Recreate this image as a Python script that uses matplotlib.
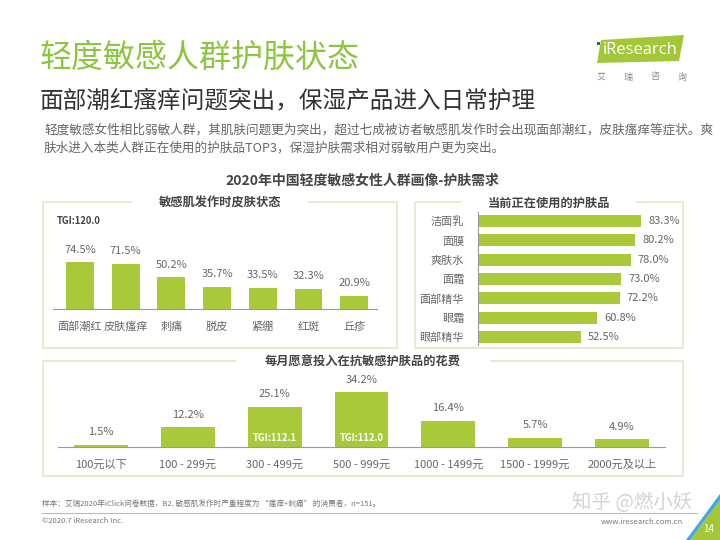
import matplotlib
matplotlib.use("Agg")
import matplotlib.pyplot as plt
from matplotlib.patches import Rectangle, Polygon

plt.rcParams['font.family'] = ['Noto Sans CJK SC', 'DejaVu Sans']

# ---------------- data ----------------
skin_cats = ['面部潮红', '皮肤瘙痒', '刺痛', '脱皮', '紧绷', '红斑', '丘疹']
skin_vals = [74.5, 71.5, 50.2, 35.7, 33.5, 32.3, 20.9]

prod_cats = ['洁面乳', '面膜', '爽肤水', '面霜', '面部精华', '眼霜', '眼部精华']
prod_vals = [83.3, 80.2, 78.0, 73.0, 72.2, 60.8, 52.5]

spend_cats = ['100元以下', '100 - 299元', '300 - 499元', '500 - 999元',
              '1000 - 1499元', '1500 - 1999元', '2000元及以上']
spend_vals = [1.5, 12.2, 25.1, 34.2, 16.4, 5.7, 4.9]
spend_tgi = {2: 'TGI:112.1', 3: 'TGI:112.0'}

# ---------------- style ----------------
W, H = 720, 540
BAR = '#a9c93b'
TITLE_G = '#8cc540'
BOX = '#e3e7c9'
TXT = '#666666'
DARK = '#444444'

fig = plt.figure(figsize=(7.2, 5.4), dpi=100)
fig.patch.set_facecolor('white')


def fx(x):
    return x / W


def fy(y):
    return 1 - y / H


def ftext(x, y, s, **kw):
    return fig.text(fx(x), fy(y), s, **kw)


def axes_px(left, top, right, bottom):
    a = fig.add_axes([fx(left), fy(bottom), (right - left) / W, (bottom - top) / H])
    a.set_zorder(5)
    a.patch.set_alpha(0)
    return a


# ---------------- header ----------------
ftext(40, 58, '轻度敏感人群护肤状态', fontsize=23, color=TITLE_G, va='center', ha='left',
      fontweight='light')
ftext(40, 101, '面部潮红瘙痒问题突出，保湿产品进入日常护理', fontsize=17, color='#333333',
      va='center', ha='left', fontweight='light')
ftext(44, 130, '轻度敏感女性相比弱敏人群，其肌肤问题更为突出，超过七成被访者敏感肌发作时会出现面部潮红，皮肤瘙痒等症状。爽',
      fontsize=9.1, color=TXT, va='center', ha='left')
ftext(44, 148, '肤水进入本类人群正在使用的护肤品TOP3，保湿护肤需求相对弱敏用户更为突出。',
      fontsize=9.1, color=TXT, va='center', ha='left')

# logo
fig.patches.append(Polygon([(fx(597), fy(63)), (fx(601), fy(40)), (fx(684), fy(35)), (fx(679), fy(61))],
                           closed=True, transform=fig.transFigure, facecolor='#a3c739', edgecolor='none'))
ftext(640, 50, 'iResearch', fontsize=12, color='white', ha='center', va='center',
      family=['Open Sans', 'DejaVu Sans'])
fig.patches.append(Rectangle((fx(597), fy(45)), 3 / W, 3 / H, transform=fig.transFigure,
                             facecolor='#1f5fa8', edgecolor='none'))
for i, ch in enumerate('艾瑞咨询'):
    ftext(601 + i * 27, 77, ch, fontsize=6.5, color='#888888', ha='center', va='center')

# chart title
ftext(362, 181, '2020年中国轻度敏感女性人群画像-护肤需求', fontsize=10, fontweight='bold',
      color=DARK, ha='center', va='center')


# ---------------- boxes ----------------
def box(left, top, right, bottom, title, tcx, tgap):
    fig.patches.append(Rectangle((fx(left), fy(bottom)), (right - left) / W, (bottom - top) / H,
                                 transform=fig.transFigure, facecolor='none', edgecolor=BOX,
                                 linewidth=1.2, zorder=0))
    fig.patches.append(Rectangle((fx(tcx - tgap), fy(top) - 2 / H), 2 * tgap / W, 4 / H,
                                 transform=fig.transFigure, facecolor='white', edgecolor='none',
                                 zorder=1))
    ftext(tcx, top + 1, title, fontsize=8.8, fontweight='bold', color=DARK,
          ha='center', va='center', zorder=2)


box(43, 202, 397, 348, '敏感肌发作时皮肤状态', 220, 88)
box(415, 202, 683, 348, '当前正在使用的护肤品', 549, 87)
box(43, 361, 683, 476, '每月愿意投入在抗敏感护肤品的花费', 363, 127)

# ---------------- left chart ----------------
ax1 = axes_px(53, 230, 377, 309)
x1 = list(range(len(skin_cats)))
ax1.bar(x1, skin_vals, width=0.61, color=BAR)
ax1.set_xlim(-0.59, 6.5)
ax1.set_ylim(0, 79 / 0.63)
for s in ['top', 'right', 'left']:
    ax1.spines[s].set_visible(False)
ax1.spines['bottom'].set_color('#999999')
ax1.set_yticks([])
ax1.set_xticks(x1)
ax1.set_xticklabels(skin_cats, fontsize=8, color=TXT)
ax1.tick_params(axis='x', length=0, pad=9)
for i, v in zip(x1, skin_vals):
    ax1.annotate(f'{v}%', (i, v), xytext=(0, 9), textcoords='offset points',
                 ha='center', va='center', fontsize=8, color=TXT, annotation_clip=False)
ftext(57, 221, 'TGI:120.0', fontsize=6.8, fontweight='bold', color=DARK, ha='left', va='center')

# ---------------- right chart ----------------
ax2 = axes_px(478, 212, 680, 345)
y2 = list(range(len(prod_cats)))
ax2.barh(y2, prod_vals, height=0.62, color=BAR)
ax2.set_xlim(0, 202 / 1.96)
ax2.set_ylim(6.42, -0.466)
for s in ['top', 'right', 'bottom']:
    ax2.spines[s].set_visible(False)
ax2.spines['left'].set_color('#999999')
ax2.set_xticks([])
ax2.set_yticks(y2)
ax2.set_yticklabels(prod_cats, fontsize=8, color=TXT)
ax2.tick_params(axis='y', length=0, pad=10)
for i, v in zip(y2, prod_vals):
    ax2.annotate(f'{v:.1f}%', (v, i), xytext=(5, 0), textcoords='offset points',
                 ha='left', va='center', fontsize=8, color=TXT, annotation_clip=False)

# ---------------- bottom chart ----------------
ax3 = axes_px(58, 380, 665, 447)
x3 = list(range(len(spend_cats)))
ax3.bar(x3, spend_vals, width=0.62, color=BAR)
ax3.set_xlim(-0.495, 6.495)
ax3.set_ylim(0, 67 / 1.6)
for s in ['top', 'right', 'left']:
    ax3.spines[s].set_visible(False)
ax3.spines['bottom'].set_color('#999999')
ax3.set_yticks([])
ax3.set_xticks(x3)
ax3.set_xticklabels(spend_cats, fontsize=8, color=TXT)
ax3.tick_params(axis='x', length=0, pad=9)
for i, v in zip(x3, spend_vals):
    ax3.annotate(f'{v}%', (i, v), xytext=(0, 9), textcoords='offset points',
                 ha='center', va='center', fontsize=8, color=TXT, annotation_clip=False)
for i, t in spend_tgi.items():
    ax3.annotate(t, (i, 0), xytext=(0, 6.5), textcoords='offset points', ha='center',
                 va='center', fontsize=6.8, fontweight='bold', color='white')

# ---------------- footer ----------------
ftext(42, 505, '样本：艾瑞2020年iClick问卷数据，B2. 敏感肌发作时严重程度为 “瘙痒+刺痛” 的消费者，n=151。',
      fontsize=5.5, color='#777777', ha='left', va='center')
fig.add_artist(plt.Line2D([fx(42), fx(697)], [fy(513), fy(513)], transform=fig.transFigure,
                          color='#bbbbbb', linewidth=0.8))
ftext(42, 521, '©2020.7 iResearch Inc.', fontsize=5.5, color='#777777', ha='left', va='center')
ftext(683, 522, 'www.iresearch.com.cn', fontsize=5.5, color='#777777', ha='right', va='center')
ftext(632, 503, '知乎 @燃小妖', fontsize=14, color='#c8c8c8', ha='center', va='center', alpha=0.8)

fig.patches.append(Polygon([(fx(690), fy(540)), (fx(720), fy(540)), (fx(720), fy(500))],
                           closed=True, transform=fig.transFigure, facecolor='#a3c739', edgecolor='none'))
fig.patches.append(Polygon([(fx(686), fy(540)), (fx(690), fy(540)), (fx(720), fy(500)), (fx(720), fy(494))],
                           closed=True, transform=fig.transFigure, facecolor='#3fa9e0', edgecolor='none'))
ftext(709, 529, '14', fontsize=7, color='white', ha='center', va='center')

fig.savefig('out.png', dpi=100)
